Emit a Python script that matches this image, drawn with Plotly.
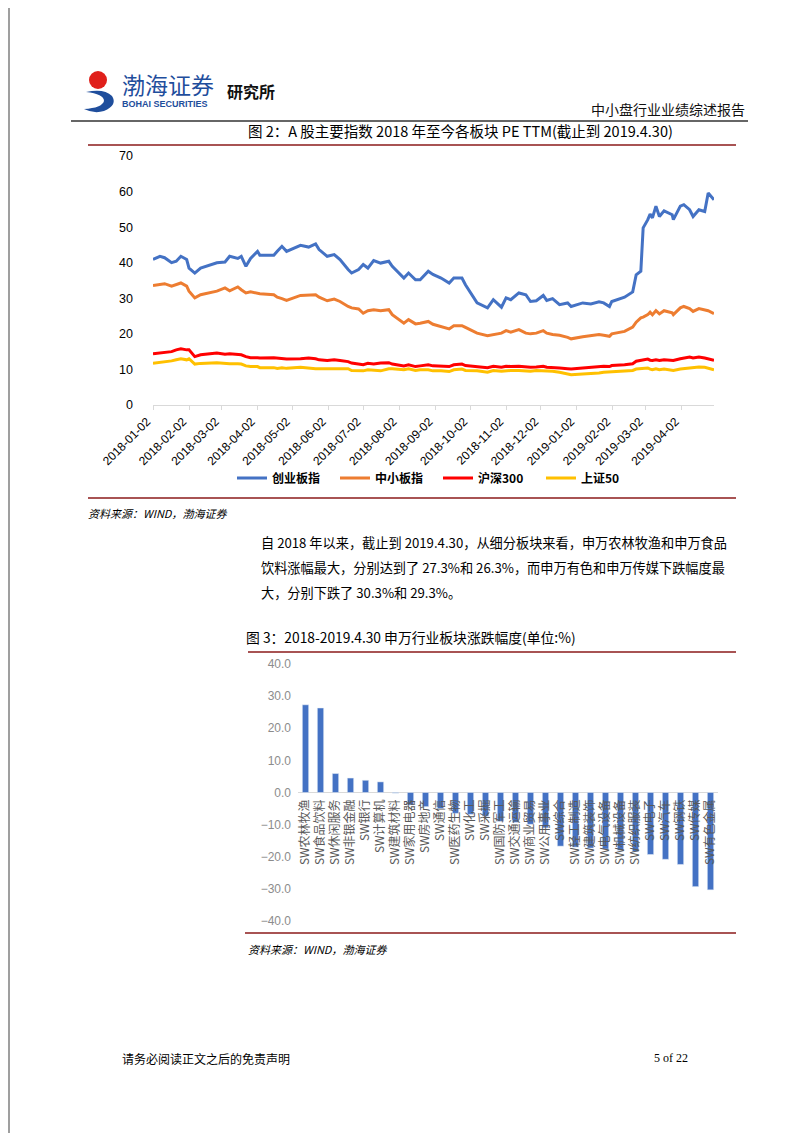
import plotly.graph_objects as go

W, H = 802, 1133
def px(x): return x / W
def py(y): return 1 - y / H

# ---------------- Chart 1 data: PE TTM ----------------
dates = [
    "2018-01-02","2018-01-08","2018-01-12","2018-01-18","2018-01-22","2018-01-26","2018-01-31",
    "2018-02-02","2018-02-07","2018-02-12","2018-02-26",
    "2018-03-05","2018-03-09","2018-03-16","2018-03-19","2018-03-23","2018-03-27",
    "2018-04-02","2018-04-04","2018-04-16","2018-04-19","2018-04-23","2018-04-27",
    "2018-05-09","2018-05-16","2018-05-22","2018-05-25",
    "2018-06-01","2018-06-07","2018-06-12","2018-06-19","2018-06-22","2018-06-28",
    "2018-07-02","2018-07-06","2018-07-11","2018-07-17","2018-07-24","2018-07-27",
    "2018-08-06","2018-08-10","2018-08-16","2018-08-20","2018-08-27","2018-08-31",
    "2018-09-07","2018-09-14","2018-09-18","2018-09-25","2018-09-28",
    "2018-10-08","2018-10-17","2018-10-22","2018-10-29",
    "2018-11-02","2018-11-06","2018-11-13","2018-11-19","2018-11-23","2018-11-28",
    "2018-12-04","2018-12-07","2018-12-12","2018-12-18","2018-12-25","2018-12-28",
    "2019-01-07","2019-01-14","2019-01-21","2019-01-25","2019-01-30",
    "2019-02-01","2019-02-12","2019-02-19","2019-02-22","2019-02-26","2019-02-28",
    "2019-03-04","2019-03-06","2019-03-08","2019-03-11","2019-03-14","2019-03-18","2019-03-25","2019-03-26",
    "2019-04-01","2019-04-04","2019-04-09","2019-04-12","2019-04-17","2019-04-22","2019-04-25","2019-04-30",
]

chinext = [40.9,41.8,41.4,40.0,40.4,41.8,40.9,38.5,37.1,38.5,40.0,40.2,41.8,41.2,41.8,39.0,41.2,
           43.2,42.1,42.1,43.2,44.6,43.2,44.9,44.4,45.3,43.7,41.8,42.3,40.9,38.1,37.1,38.1,39.5,
           38.5,40.6,39.9,40.4,39.0,35.7,37.1,35.2,35.2,37.6,36.7,35.7,34.3,35.7,35.7,33.8,28.7,27.3,
           29.6,27.5,30.1,29.6,31.5,31.0,29.1,29.3,30.8,29.4,29.9,28.2,28.7,27.7,28.7,28.4,29.0,28.7,
           27.7,29.1,30.3,31.8,36.6,37.6,49.8,52.1,53.7,52.6,55.9,53.0,54.6,53.5,52.1,55.9,56.3,54.9,
           53.0,54.9,54.4,59.6,57.7]
smes = [33.6,34.0,34.1,33.4,33.8,34.3,33.4,32.0,30.1,31.0,32.0,32.9,32.1,33.2,32.4,31.5,31.8,31.5,
        31.3,31.0,30.3,29.9,29.4,30.8,30.8,31.0,30.3,29.3,29.8,29.1,27.7,27.3,27.0,25.8,26.5,26.8,
        26.5,26.8,25.4,23.0,24.0,22.8,23.0,23.5,22.7,22.1,21.4,22.3,22.3,21.8,20.2,19.5,
        19.8,20.2,20.9,20.5,21.2,20.2,20.0,20.2,20.9,20.2,19.8,19.6,19.0,18.6,19.2,19.6,19.8,19.6,
        19.3,20.0,20.7,21.9,23.3,24.5,24.7,25.4,26.1,25.4,26.5,25.6,26.5,25.9,25.4,27.3,27.7,27.1,
        26.3,27.1,26.8,26.5,25.7]
hs300 = [14.4,14.6,14.8,15.0,15.5,15.8,15.5,15.5,13.6,14.1,14.6,14.3,14.4,14.3,14.1,13.6,13.3,13.3,
         13.2,13.3,13.2,13.0,12.9,13.0,13.2,13.0,12.7,12.5,12.7,12.5,12.2,11.8,11.5,11.3,11.7,11.5,
         11.8,11.9,11.5,11.0,11.3,10.8,11.0,11.3,11.0,10.8,10.8,11.3,11.5,11.1,10.8,10.5,
         10.9,10.6,10.9,10.8,10.9,10.7,10.6,10.7,10.9,10.6,10.6,10.4,10.2,10.1,10.4,10.6,10.7,10.9,
         10.8,11.1,11.3,11.6,12.3,12.6,12.7,12.9,12.6,12.5,12.7,12.5,12.7,12.6,12.5,13.0,13.2,13.5,
         13.2,13.5,13.2,13.0,12.6]
sz50 = [11.7,11.9,12.2,12.4,12.7,13.0,12.7,13.0,11.5,11.7,11.9,11.7,11.6,11.6,11.5,11.0,10.8,10.8,
        10.5,10.5,10.3,10.5,10.3,10.6,10.3,10.2,10.2,10.2,10.3,10.2,10.2,9.7,9.7,9.6,9.9,9.7,
        9.6,10.2,10.2,9.9,10.2,9.7,9.9,9.9,9.6,9.6,9.4,9.9,10.1,9.7,9.6,9.2,
        9.7,9.5,9.7,9.7,9.7,9.5,9.5,9.7,9.7,9.5,9.5,9.2,8.8,8.5,8.7,8.8,9.0,9.2,
        9.3,9.3,9.5,9.7,10.1,10.2,10.4,10.4,10.1,9.9,10.2,9.9,10.1,9.9,9.7,10.1,10.2,10.4,
        10.6,10.7,10.6,10.4,9.9]

series_names = ["创业板指", "中小板指", "沪深300", "上证50"]
series_colors = ["#4472C4", "#ED7D31", "#FF0000", "#FFC000"]

month_ticks = ["2018-01-02","2018-02-02","2018-03-02","2018-04-02","2018-05-02","2018-06-02",
               "2018-07-02","2018-08-02","2018-09-02","2018-10-02","2018-11-02","2018-12-02",
               "2019-01-02","2019-02-02","2019-03-02","2019-04-02"]
y1_ticks = [0, 10, 20, 30, 40, 50, 60, 70]

# ---------------- Chart 2 data: SW industry returns ----------------
industries = ["SW农林牧渔","SW食品饮料","SW休闲服务","SW非银金融","SW银行","SW计算机","SW建筑材料",
              "SW家用电器","SW房地产","SW通信","SW医药生物","SW化工","SW采掘","SW国防军工",
              "SW交通运输","SW商业贸易","SW公用事业","SW综合","SW轻工制造","SW建筑装饰",
              "SW电气设备","SW机械设备","SW纺织服装","SW电子","SW汽车","SW钢铁","SW传媒","SW有色金属"]
returns = [27.3,26.3,5.9,4.5,3.8,3.3,-0.2,-3.9,-4.4,-5.0,-6.5,-6.8,-7.4,-9.0,-9.3,-9.9,-11.0,
           -16.7,-17.0,-17.3,-17.6,-18.0,-18.4,-19.3,-20.8,-22.4,-29.3,-30.3]
y2_ticks = [40, 30, 20, 10, 0, -10, -20, -30, -40]

CJK = "Noto Sans CJK SC"
fig = go.Figure()

for name, vals, col in zip(series_names, [chinext, smes, hs300, sz50], series_colors):
    fig.add_trace(go.Scatter(x=dates, y=vals, mode="lines", name=name,
                             line=dict(color=col, width=3), xaxis="x", yaxis="y"))

fig.add_trace(go.Bar(x=industries, y=returns, marker_color="#4472C4", showlegend=False,
                     xaxis="x2", yaxis="y2", width=0.42))

fig.update_layout(
    width=W, height=H, margin=dict(l=0, r=0, t=0, b=0, autoexpand=False),
    paper_bgcolor="white", plot_bgcolor="white",
    font=dict(family=CJK, color="#000000"),
    showlegend=True,
    legend=dict(orientation="h", x=px(224), xanchor="left", y=py(470), yanchor="middle",
                font=dict(family=CJK, size=12, color="#000000", weight="bold"),
                itemwidth=30, entrywidth=58, entrywidthmode="pixels",
                traceorder="normal", bgcolor="rgba(0,0,0,0)"),
    xaxis=dict(domain=[px(145), px(706)], anchor="y", type="date", automargin=False,
               range=["2018-01-02", "2019-04-30"],
               tickmode="array", tickvals=month_ticks, ticktext=month_ticks,
               tickangle=-45, tickfont=dict(family="Liberation Sans", size=12, color="#000000"),
               ticklabelshift=-6,
               showgrid=False, showline=True, linecolor="#D9D9D9", linewidth=1,
               ticks="outside", ticklen=4, tickcolor="#D9D9D9", zeroline=False),
    yaxis=dict(domain=[py(397), py(148)], anchor="x", range=[0, 70], automargin=False,
               tickmode="array", tickvals=y1_ticks,
               tickfont=dict(family="Liberation Sans", size=12.5, color="#000000"),
               showgrid=False, showline=False, zeroline=False, ticks="", ticklabelstandoff=19),
    xaxis2=dict(domain=[px(290), px(710)], anchor="free", position=py(786), automargin=False,
                type="category", tickangle=-90,
                tickfont=dict(family=CJK, size=12, color="#595959"),
                showgrid=False, showline=False, zeroline=False, ticks="", ticklabelstandoff=2),
    yaxis2=dict(domain=[py(913), py(656)], anchor="x2", range=[-40, 40], automargin=False,
                tickmode="array", tickvals=y2_ticks, tickformat=".1f",
                tickfont=dict(family="Liberation Sans", size=12, color="#8C8C8C"),
                showgrid=False, showline=False, zeroline=True, zerolinecolor="#D9D9D9",
                zerolinewidth=1, ticks="", ticklabelstandoff=6),
    bargap=0.6,
)

shapes = []
def hline(x0, x1, y, color, width=1.5):
    shapes.append(dict(type="line", xref="paper", yref="paper", x0=px(x0), x1=px(x1),
                       y0=py(y), y1=py(y), line=dict(color=color, width=width)))
# page border
shapes.append(dict(type="line", xref="paper", yref="paper", x0=px(1), x1=px(1), y0=py(0), y1=py(1131),
                   line=dict(color="#7F7F7F", width=1.5)))
shapes.append(dict(type="line", xref="paper", yref="paper", x0=px(800.5), x1=px(800.5), y0=py(0), y1=py(1131),
                   line=dict(color="#7F7F7F", width=1.5)))
hline(1, 801, 1131, "#7F7F7F", 1.5)
# header rule
hline(63, 740, 113, "#333333", 1.5)
# figure rules
hline(80, 728, 137, "#8B1A1A", 1.5)
hline(80, 728, 490, "#8B1A1A", 1.5)
hline(240, 728, 644, "#8B1A1A", 1.5)
hline(237, 728, 925, "#8B1A1A", 1.5)
# logo: red ball and blue swoosh
shapes.append(dict(type="circle", xref="paper", yref="paper", x0=px(81), x1=px(99), y0=py(81), y1=py(63),
                   fillcolor="#E0201B", line=dict(width=0)))
def pt(x, y): return f"{px(x):.5f},{py(y):.5f}"
swoosh = (f"M {pt(78,84)} Q {pt(96,80)} {pt(104,88)} Q {pt(110,97)} {pt(96,103)} "
          f"Q {pt(86,106)} {pt(76,101)} Q {pt(94,100)} {pt(96,93)} Q {pt(96,86)} {pt(78,84)} Z")
shapes.append(dict(type="path", xref="paper", yref="paper", path=swoosh,
                   fillcolor="#1F4E9C", line=dict(width=0)))
fig.update_layout(shapes=shapes)

ann = []
def text(x, y, s, size=13, color="#000000", xanchor="left", family=CJK, **kw):
    ann.append(dict(x=px(x), y=py(y), xref="paper", yref="paper", text=s, showarrow=False,
                    xanchor=xanchor, yanchor="middle", font=dict(family=family, size=size, color=color, **kw)))

text(112, 76, "渤海证券", size=23, color="#1F4E9C")
text(112, 96, "<b>BOHAI SECURITIES</b>", size=9, color="#1F4E9C", family="Liberation Sans")
text(217, 83, "<b>研究所</b>", size=16, color="#111111")
text(739, 101, "中小盘行业业绩综述报告", size=14, color="#111111", xanchor="right")
text(452, 122, "图 2：A 股主要指数 2018 年至今各板块 PE TTM(截止到 2019.4.30)", size=14.5, xanchor="center")
text(78, 505, "<i>资料来源：WIND，渤海证券</i>", size=11)
text(251, 534, "自 2018 年以来，截止到 2019.4.30，从细分板块来看，申万农林牧渔和申万食品", size=13.2)
text(251, 559, "饮料涨幅最大，分别达到了 27.3%和 26.3%，而申万有色和申万传媒下跌幅度最", size=13.2)
text(251, 584, "大，分别下跌了 30.3%和 29.3%。", size=13.2)
text(236, 629, "图 3：2018-2019.4.30 申万行业板块涨跌幅度(单位:%)", size=13.8)
text(238, 941, "<i>资料来源：WIND，渤海证券</i>", size=11)
text(112, 1050, "请务必阅读正文之后的免责声明", size=12)
text(682, 1050, "5 of 22", size=12, xanchor="right", family="Liberation Serif")
fig.update_layout(annotations=ann)

fig.write_html("out.html")
